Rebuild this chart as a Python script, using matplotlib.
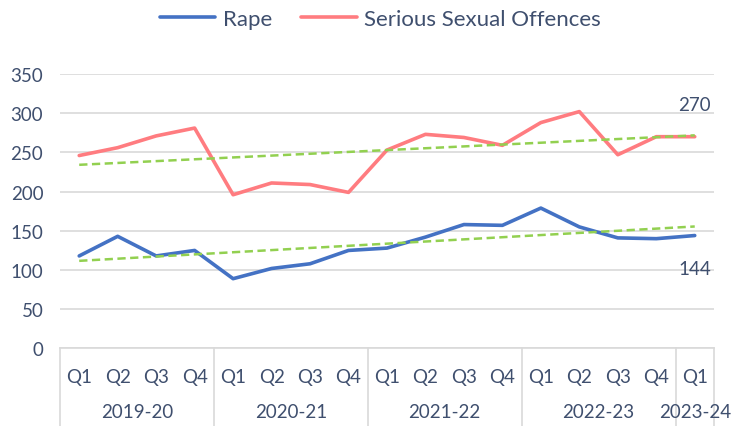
import numpy as np
import matplotlib.pyplot as plt
from matplotlib.transforms import blended_transform_factory

plt.rcParams['font.family'] = ['Lato', 'DejaVu Sans']

quarters = ['Q1', 'Q2', 'Q3', 'Q4'] * 4 + ['Q1']
years = ['2019-20', '2020-21', '2021-22', '2022-23', '2023-24']
year_len = [4, 4, 4, 4, 1]

rape = [118, 143, 118, 125, 89, 102, 108, 125, 128, 142, 158, 157, 179, 155, 141, 140, 144]
sso = [246, 256, 271, 281, 196, 211, 209, 199, 253, 273, 269, 259, 288, 302, 247, 270, 270]

txt = '#3F4F6E'
x = np.arange(len(rape))

fig = plt.figure(figsize=(7.35, 4.27), dpi=100)
ax = fig.add_axes([0.0816, 0.1815, 0.8898, 0.643])

ax.plot(x, rape, color='#4472C4', lw=2.6, label='Rape', solid_capstyle='round')
ax.plot(x, sso, color='#FF7C80', lw=2.6, label='Serious Sexual Offences', solid_capstyle='round')

# linear trend lines
for s in (rape, sso):
    k, b = np.polyfit(x, s, 1)
    ax.plot(x, k * x + b, color='#92D050', lw=1.8, ls=(0, (3.3, 1.8)))

ax.annotate(str(sso[-1]), (x[-1], sso[-1]), xytext=(0, 23), textcoords='offset points',
            ha='center', va='center', color=txt, fontsize=13.5)
ax.annotate(str(rape[-1]), (x[-1], rape[-1]), xytext=(0, -24), textcoords='offset points',
            ha='center', va='center', color=txt, fontsize=13.5)

ax.set_xlim(-0.5, len(rape) - 0.5)
ax.set_ylim(0, 350)
ax.set_yticks(range(0, 351, 50))
ax.grid(axis='y', color='#D9D9D9', lw=1.2)
ax.set_axisbelow(True)
for sp in ['top', 'right', 'left']:
    ax.spines[sp].set_visible(False)
ax.spines['bottom'].set_color('#D9D9D9')
ax.spines['bottom'].set_linewidth(1.2)
ax.tick_params(axis='y', length=0, labelsize=13.5, labelcolor=txt, pad=12)
ax.set_xticks(x)
ax.set_xticklabels(quarters)
ax.tick_params(axis='x', length=0, labelsize=13.5, labelcolor=txt, pad=14)

# second level of the category axis
tr = blended_transform_factory(ax.transData, ax.transAxes)
edges = np.concatenate([[0], np.cumsum(year_len)]) - 0.5
for e in edges:
    ax.plot([e, e], [0, -0.285], transform=tr, color='#D9D9D9', lw=1.2, clip_on=False)
for i, yl in enumerate(years):
    ax.text((edges[i] + edges[i + 1]) / 2, -0.23, yl, transform=tr, ha='center', va='center',
            fontsize=13.5, color=txt)

ax.legend(loc='center', bbox_to_anchor=(0.49, 1.2), ncol=2, frameon=False, fontsize=16,
          labelcolor=txt, handlelength=2.5, columnspacing=1.3, handletextpad=0.35)

fig.savefig('out.png', dpi=100)
